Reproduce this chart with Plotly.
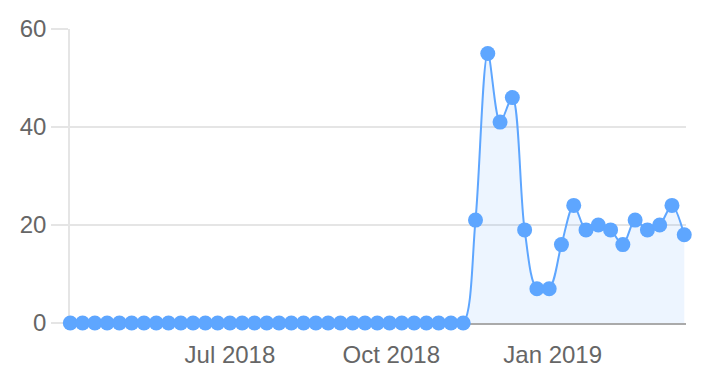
import plotly.graph_objects as go
import pandas as pd

start_date = "2018-04-01"
n_weeks = 51
values = [0] * 33 + [21, 55, 41, 46, 19, 7, 7, 16, 24, 19, 20, 19, 16, 21, 19, 20, 24, 18]
dates = pd.date_range(start_date, periods=n_weeks, freq="7D")

x_tickvals = ["2018-07-01", "2018-10-01", "2019-01-01"]
x_ticktext = ["Jul 2018", "Oct 2018", "Jan 2019"]
y_tickvals = [0, 20, 40, 60]

blue = "rgb(94,166,255)"

fig = go.Figure()
fig.add_trace(go.Scatter(
    x=dates, y=values, mode="lines+markers",
    line=dict(color=blue, width=2, shape="spline", smoothing=0.9),
    marker=dict(color=blue, size=15, line=dict(width=0)),
    fill="tozeroy", fillcolor="rgba(94,166,255,0.11)",
    cliponaxis=False, showlegend=False,
))

fig.update_layout(
    width=720, height=384,
    margin=dict(l=70, r=34, t=29, b=61),
    paper_bgcolor="white", plot_bgcolor="white",
    font=dict(family="Liberation Sans, Arial, sans-serif", size=24, color="#666666"),
    xaxis=dict(
        type="date",
        range=["2018-03-31 20:00", "2019-03-18"],
        tickvals=x_tickvals, ticktext=x_ticktext,
        showgrid=False, zeroline=False,
        showline=True, linecolor="#aaaaaa", linewidth=2,
        ticks="", ticklabelstandoff=9, layer="below traces",
    ),
    yaxis=dict(
        range=[0, 60], tickvals=y_tickvals,
        showgrid=True, gridcolor="#e5e5e5", gridwidth=1.5,
        zeroline=False,
        showline=True, linecolor="#e5e5e5", linewidth=1.5,
        ticks="outside", ticklen=17, tickcolor="#e5e5e5", tickwidth=1.5,
        ticklabelstandoff=0, layer="below traces",
    ),
)

fig.write_html("out.html")
